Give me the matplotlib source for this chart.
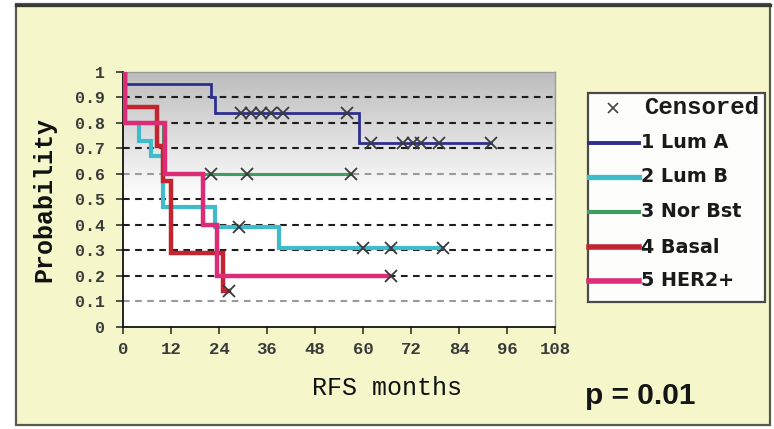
import numpy as np
import matplotlib
matplotlib.use("Agg")
import matplotlib.pyplot as plt
from matplotlib.patches import Rectangle
from matplotlib.lines import Line2D
from matplotlib.colors import LinearSegmentedColormap

# ---- Kaplan-Meier data (months, survival probability) ----
groups = ["1 Lum A", "2 Lum B", "3 Nor Bst", "4 Basal", "5 HER2+"]

luma_times = [0, 0.5, 22, 23, 59]
luma_surv = [1.0, 0.95, 0.90, 0.84, 0.72]
luma_end = 92
luma_cens = [29.5, 32, 34.5, 37, 40, 56, 62, 70, 72.5, 74.5, 79, 92]

lumb_times = [0, 0.5, 4, 7, 10, 23, 39]
lumb_surv = [1.0, 0.80, 0.73, 0.67, 0.47, 0.39, 0.31]
lumb_end = 80
lumb_cens = [29, 60, 67, 80]

norb_times = [0, 0.5, 10]
norb_surv = [1.0, 0.80, 0.60]
norb_end = 57
norb_cens = [22, 31, 57]

basal_times = [0, 0.5, 8.5, 10, 12, 25]
basal_surv = [1.0, 0.86, 0.71, 0.57, 0.29, 0.14]
basal_end = 26.5
basal_cens = [26.5]

her2_times = [0, 0.5, 10.5, 20, 23.5]
her2_surv = [1.0, 0.80, 0.60, 0.40, 0.20]
her2_end = 66.5
her2_cens = [67]

x_ticks = [0, 12, 24, 36, 48, 60, 72, 84, 96, 108]
x_tick_labels = ["0", "12", "24", "36", "48", "60", "72", "84", "96", "108"]
y_ticks = [0, 0.1, 0.2, 0.3, 0.4, 0.5, 0.6, 0.7, 0.8, 0.9, 1.0]
y_tick_labels = ["0", "0.1", "0.2", "0.3", "0.4", "0.5", "0.6", "0.7", "0.8", "0.9", "1"]
grid_levels = [0.1, 0.2, 0.3, 0.4, 0.5, 0.6, 0.7, 0.8, 0.9]
p_value_text = "p = 0.01"

# ---- figure geometry (pixels) ----
W, H = 774, 429
fig = plt.figure(figsize=(W / 100, H / 100), dpi=100)
fig.patch.set_facecolor("white")


def fx(px):
    return px / W


def fy(py):
    return 1 - py / H


# light yellow panel behind everything
fig.patches.append(Rectangle((fx(16), fy(425)), fx(770) - fx(16), fy(4) - fy(425),
                             transform=fig.transFigure, facecolor="#f5f7ca",
                             edgecolor="#5a5a52", linewidth=1.6, zorder=-5))
fig.add_artist(Line2D([fx(16), fx(770)], [fy(4.5), fy(4.5)], color="#3a3a34", lw=2.4,
                      transform=fig.transFigure, zorder=-4))

ax_l, ax_r, ax_t, ax_b = 123, 555, 71.7, 326.7
ax = fig.add_axes([fx(ax_l), fy(ax_b), fx(ax_r) - fx(ax_l), fy(ax_t) - fy(ax_b)])
ax.set_zorder(1)
ax.set_xlim(0, 108)
ax.set_ylim(0, 1)

# grey-to-white vertical gradient in the plotting area
grad_cmap = LinearSegmentedColormap.from_list("g", ["#ffffff", "#ffffff", "#bdbdbd"])
ax.imshow(np.linspace(0, 1, 256)[:, None], extent=[0, 108, 0, 1], origin="lower",
          aspect="auto", cmap=grad_cmap, zorder=0, interpolation="bilinear")

light_levels = {0.1, 0.6}
for g in grid_levels:
    ax.axhline(g, color="#9a9a9a" if g in light_levels else "#1e1e1e",
               lw=1.5, ls=(0, (3.2, 2.6)), zorder=1)

colors = ["#2e2e8e", "#3fbccb", "#3f9d62", "#c42430", "#dc2c78"]
widths = [2.0, 3.0, 2.2, 3.2, 3.2]
series = [
    (luma_times, luma_surv, luma_end, luma_cens),
    (lumb_times, lumb_surv, lumb_end, lumb_cens),
    (norb_times, norb_surv, norb_end, norb_cens),
    (basal_times, basal_surv, basal_end, basal_cens),
    (her2_times, her2_surv, her2_end, her2_cens),
]

for (t, s, end, cens), c, lw in zip(series, colors, widths):
    t = np.asarray(t, float)
    s = np.asarray(s, float)
    ax.step(np.append(t, end), np.append(s, s[-1]), where="post",
            color=c, lw=lw, zorder=3, solid_joinstyle="miter")
    cens = np.asarray(cens, float)
    idx = np.searchsorted(t, cens, side="right") - 1
    ax.plot(cens, s[idx], ls="none", marker="x", ms=8, mew=1.3,
            color="#3a3a3a", zorder=4)

for side in ("left", "bottom"):
    ax.spines[side].set_color("#111111")
    ax.spines[side].set_linewidth(1.3)
for side in ("top", "right"):
    ax.spines[side].set_color("#9a9a9a")
    ax.spines[side].set_linewidth(1.0)

tick_font = dict(family="Liberation Mono", weight="bold", color="#3a3a3a")
ax.set_xticks(x_ticks)
ax.set_xticklabels(x_tick_labels, fontsize=12.5, **tick_font)
ax.set_yticks(y_ticks)
ax.set_yticklabels(y_tick_labels, fontsize=12, **tick_font)
ax.tick_params(axis="both", direction="out", length=5, width=1.1, color="#222222")
ax.tick_params(axis="x", pad=6)
ax.tick_params(axis="y", pad=8)

ax.set_ylabel("Probability", family="Liberation Mono", weight="bold",
              fontsize=18, color="#111111")
ax.yaxis.set_label_coords((44 - ax_l) / (ax_r - ax_l), 0.5)
ax.set_xlabel("RFS months", family="Liberation Mono", fontsize=18, color="#111111")
ax.xaxis.set_label_coords((387 - ax_l) / (ax_r - ax_l), -(388 - ax_b) / (ax_b - ax_t))
ax.xaxis.label.set_va("center")
ax.yaxis.label.set_va("center")

fig.text(fx(640), fy(396), p_value_text, ha="center", va="center",
         family="Liberation Sans", weight="bold", fontsize=21.5, color="#151515")

# ---- legend box ----
fig.patches.append(Rectangle((fx(588), fy(302)), fx(765) - fx(588), fy(93) - fy(302),
                             transform=fig.transFigure, facecolor="#fdfdfb",
                             edgecolor="#4a4a4a", linewidth=1.6, zorder=5))
row_y = [108, 143, 177, 212, 247, 281]
fig.add_artist(Line2D([fx(613)], [fy(row_y[0])], ls="none", marker="x", ms=7, mew=1.2,
                      color="#444444", transform=fig.transFigure, zorder=6))
fig.text(fx(644), fy(row_y[0]), "Censored", ha="left", va="center",
         family="Liberation Mono", weight="bold", fontsize=17.3, color="#1a1a1a", zorder=6)
for name, c, lw, yy in zip(groups, colors, widths, row_y[1:]):
    fig.add_artist(Line2D([fx(589), fx(639)], [fy(yy), fy(yy)], color=c, lw=lw + 0.8,
                          transform=fig.transFigure, zorder=6))
    fig.text(fx(641), fy(yy), name, ha="left", va="center", family="DejaVu Sans",
             weight="bold", fontsize=13.8, color="#1a1a1a", zorder=6)

fig.savefig("out.png", dpi=100)
